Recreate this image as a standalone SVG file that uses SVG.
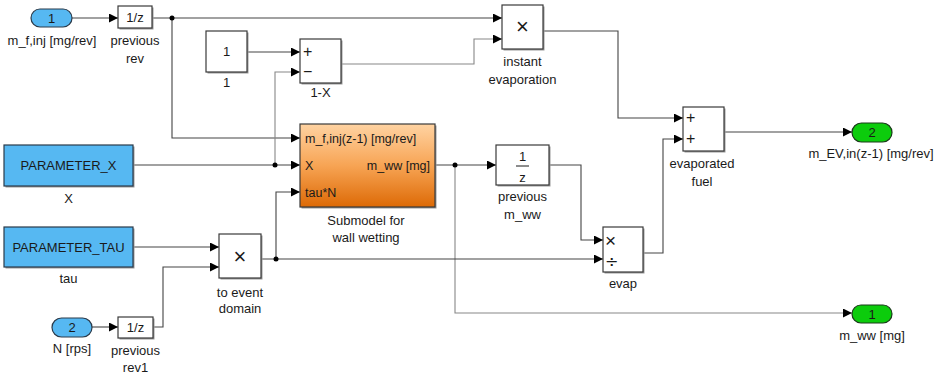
<svg xmlns="http://www.w3.org/2000/svg" width="940" height="374" viewBox="0 0 940 374">
<defs>
<marker id="arr" markerUnits="userSpaceOnUse" markerWidth="10" markerHeight="10" refX="9" refY="4.5" orient="auto">
<path d="M0,0 L9,4.5 L0,9 z" fill="#000"/>
</marker>
<linearGradient id="orange" x1="0" y1="0" x2="0" y2="1">
<stop offset="0" stop-color="#ffd3a2"/>
<stop offset="0.5" stop-color="#f7a454"/>
<stop offset="1" stop-color="#dd6a06"/>
</linearGradient>
</defs>
<style>
text{font-family:"Liberation Sans",Arial,sans-serif;font-size:13px;fill:#1a1a1a}
.c{text-anchor:middle}
.blk{fill:#fff;stroke:#3a3a3a;stroke-width:1.2}
.sh{fill:#9a9a9a}
.blue{fill:#56b8f2;stroke:#2a3a4a;stroke-width:1.2}
.green{fill:#0ccc0c;stroke:#1a3a1a;stroke-width:1.2}
.w{fill:none;stroke:#444;stroke-width:1.1}
.w2{fill:none;stroke:#888;stroke-width:1.1}
.a{marker-end:url(#arr)}
.dot{fill:#000}
.sym{font-size:16px}
.big{font-size:22px}
.sm{font-size:12.5px}
.dv{font-family:"DejaVu Sans",sans-serif;font-size:16px}
</style>

<g id="connectors">
<path class="w a" d="M72,18 H118"/>
<path class="w a" d="M152,18 H502"/>
<path class="w a" d="M172,18 V138 H300"/>
<path class="w a" d="M247,52 H300"/>
<path class="w2 a" d="M341,64 H474 V39 H502"/>
<path class="w a" d="M133,165 H300"/>
<path class="w2 a" d="M275,165 V72 H300"/>
<path class="w a" d="M435,165 H496"/>
<path class="w2 a" d="M455,165 V313 H852"/>
<path class="w a" d="M549,165 H581 V240 H603"/>
<path class="w a" d="M133,247 H219"/>
<path class="w a" d="M92,327 H118"/>
<path class="w a" d="M153,327 H163 V267 H219"/>
<path class="w a" d="M261,259 H603"/>
<path class="w a" d="M276,259 V192 H300"/>
<path class="w a" d="M543,31 H618 V118 H683"/>
<path class="w a" d="M643,253 H663 V139 H683"/>
<path class="w a" d="M724,132 H852"/>
<circle class="dot" cx="172" cy="18" r="2.5"/>
<circle class="dot" cx="275" cy="165" r="2.5"/>
<circle class="dot" cx="455" cy="165" r="2.5"/>
<circle class="dot" cx="276" cy="259" r="2.5"/>
</g>

<g id="in1">
<rect x="31" y="9" width="41" height="18" rx="9" class="blue"/>
<text x="51.5" y="23" class="c">1</text>
<text x="52" y="45" class="c">m_f,inj [mg/rev]</text>
</g>

<g id="prev_rev">
<rect x="119.5" y="7.5" width="34" height="22" class="sh"/>
<rect x="118" y="6" width="34" height="22" class="blk"/>
<text x="135" y="22" class="c">1/z</text>
<text x="135" y="45" class="c">previous</text>
<text x="135" y="63" class="c">rev</text>
</g>

<g id="const1">
<rect x="207.5" y="32.5" width="41" height="41" class="sh"/>
<rect x="206" y="31" width="41" height="41" class="blk"/>
<text x="226.5" y="56" class="c">1</text>
<text x="226.5" y="87" class="c">1</text>
</g>

<g id="one_minus_x">
<rect x="301.5" y="40.5" width="41" height="44" class="sh"/>
<rect x="300" y="39" width="41" height="44" class="blk"/>
<text x="303" y="57" class="sym">+</text>
<text x="303" y="77" class="sym">−</text>
<text x="320.5" y="97" class="c">1-X</text>
</g>

<g id="instant_evaporation">
<rect x="503.5" y="6.5" width="41" height="44" class="sh"/>
<rect x="502" y="5" width="41" height="44" class="blk"/>
<text x="522.5" y="34" class="c big">×</text>
<text x="522.5" y="66" class="c">instant</text>
<text x="522.5" y="84" class="c">evaporation</text>
</g>

<g id="param_x">
<rect x="5.5" y="146.5" width="129" height="41" class="sh"/>
<rect x="4" y="145" width="129" height="41" class="blue"/>
<text x="68.5" y="170" class="c">PARAMETER_X</text>
<text x="68.5" y="203" class="c">X</text>
</g>

<g id="submodel">
<rect x="301.5" y="125.5" width="135" height="83" class="sh"/>
<rect x="300" y="124" width="135" height="83" fill="url(#orange)" stroke="#3a3a3a" stroke-width="1.2"/>
<text x="305" y="143" class="sm">m_f,inj(z-1) [mg/rev]</text>
<text x="305" y="170" class="sm">X</text>
<text x="305" y="197" class="sm">tau*N</text>
<text x="430" y="170" class="sm" text-anchor="end">m_ww [mg]</text>
<text x="366" y="225" class="c">Submodel for</text>
<text x="366" y="242" class="c">wall wetting</text>
</g>

<g id="prev_mww">
<rect x="497.5" y="146.5" width="53" height="40" class="sh"/>
<rect x="496" y="145" width="53" height="40" class="blk"/>
<text x="522.5" y="161" class="c">1</text>
<line x1="516" y1="166" x2="529" y2="166" stroke="#1a1a1a" stroke-width="1"/>
<text x="522.5" y="182" class="c">z</text>
<text x="522.5" y="201" class="c">previous</text>
<text x="522.5" y="219" class="c">m_ww</text>
</g>

<g id="evaporated_fuel">
<rect x="684.5" y="108.5" width="41" height="44" class="sh"/>
<rect x="683" y="107" width="41" height="44" class="blk"/>
<text x="686" y="123" class="sym">+</text>
<text x="686" y="144" class="sym">+</text>
<text x="702" y="168" class="c">evaporated</text>
<text x="702" y="186" class="c">fuel</text>
</g>

<g id="out2">
<rect x="852" y="123" width="40" height="19" rx="9.5" class="green"/>
<text x="872" y="137" class="c">2</text>
<text x="871" y="158" class="c">m_EV,in(z-1) [mg/rev]</text>
</g>

<g id="param_tau">
<rect x="5.5" y="228.5" width="129" height="40" class="sh"/>
<rect x="4" y="227" width="129" height="40" class="blue"/>
<text x="68.5" y="252" class="c">PARAMETER_TAU</text>
<text x="68.5" y="283" class="c">tau</text>
</g>

<g id="to_event_domain">
<rect x="220.5" y="235.5" width="42" height="44" class="sh"/>
<rect x="219" y="234" width="42" height="44" class="blk"/>
<text x="240" y="264" class="c big">×</text>
<text x="240" y="297" class="c">to event</text>
<text x="240" y="313" class="c">domain</text>
</g>

<g id="evap">
<rect x="604.5" y="228.5" width="40" height="45" class="sh"/>
<rect x="603" y="227" width="40" height="45" class="blk"/>
<text x="605" y="247" style="font-size:19px">×</text>
<text x="605" y="267" class="dv">÷</text>
<text x="623" y="288" class="c">evap</text>
</g>

<g id="in2">
<rect x="52" y="318" width="40" height="19" rx="9.5" class="blue"/>
<text x="72" y="332" class="c">2</text>
<text x="72" y="353" class="c">N [rps]</text>
</g>

<g id="prev_rev1">
<rect x="119.5" y="318.5" width="35" height="21" class="sh"/>
<rect x="118" y="317" width="35" height="21" class="blk"/>
<text x="135.5" y="332" class="c">1/z</text>
<text x="135.5" y="355" class="c">previous</text>
<text x="135.5" y="372" class="c">rev1</text>
</g>

<g id="out1">
<rect x="852" y="305" width="40" height="18" rx="9" class="green"/>
<text x="872" y="319" class="c">1</text>
<text x="872" y="340" class="c">m_ww [mg]</text>
</g>
</svg>
